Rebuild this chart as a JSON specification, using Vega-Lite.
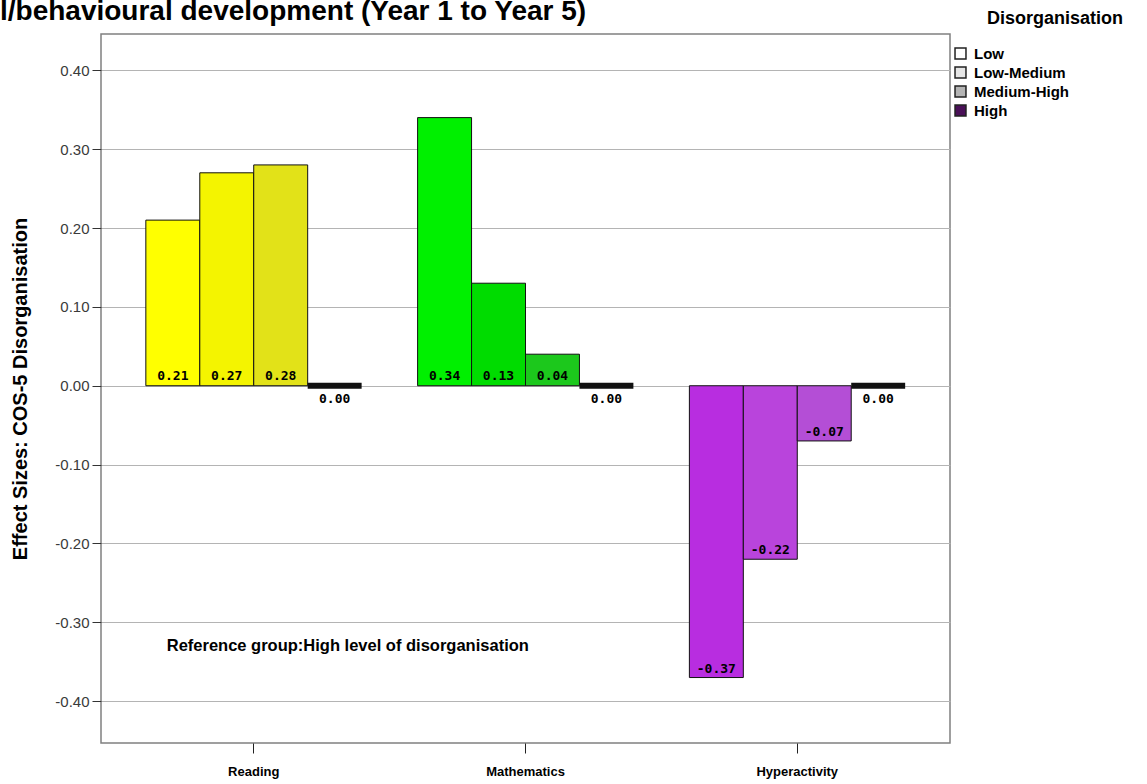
{
  "$schema": "https://vega.github.io/schema/vega-lite/v6.json",
  "autosize": {"type": "none"},
  "padding": {"left": 101, "top": 34, "right": 197, "bottom": 41},
  "width": 849,
  "height": 709,
  "background": "white",
  "title": {
    "text": "l/behavioural development (Year 1 to Year 5)",
    "anchor": "start",
    "frame": "group",
    "dx": -101,
    "dy": 26,
    "offset": 10,
    "font": "Liberation Sans",
    "fontSize": 28,
    "fontWeight": "bold",
    "color": "#000000"
  },
  "config": {
    "view": {"stroke": "#808080", "strokeWidth": 1.5},
    "axis": {"labelFont": "Liberation Sans", "titleFont": "Liberation Sans"},
    "locale": {
      "number": {"decimal": ".", "thousands": ",", "grouping": [3], "currency": ["$", ""], "minus": "-"}
    }
  },
  "datasets": {
    "bars": [
      {"subject": "Reading", "level": "Low", "key": "Reading Low", "value": 0.21},
      {"subject": "Reading", "level": "Low-Medium", "key": "Reading Low-Medium", "value": 0.27},
      {"subject": "Reading", "level": "Medium-High", "key": "Reading Medium-High", "value": 0.28},
      {"subject": "Reading", "level": "High", "key": "Reading High", "value": 0.0},
      {"subject": "Mathematics", "level": "Low", "key": "Mathematics Low", "value": 0.34},
      {"subject": "Mathematics", "level": "Low-Medium", "key": "Mathematics Low-Medium", "value": 0.13},
      {"subject": "Mathematics", "level": "Medium-High", "key": "Mathematics Medium-High", "value": 0.04},
      {"subject": "Mathematics", "level": "High", "key": "Mathematics High", "value": 0.0},
      {"subject": "Hyperactivity", "level": "Low", "key": "Hyperactivity Low", "value": -0.37},
      {"subject": "Hyperactivity", "level": "Low-Medium", "key": "Hyperactivity Low-Medium", "value": -0.22},
      {"subject": "Hyperactivity", "level": "Medium-High", "key": "Hyperactivity Medium-High", "value": -0.07},
      {"subject": "Hyperactivity", "level": "High", "key": "Hyperactivity High", "value": 0.0}
    ],
    "note": [
      {"subject": "Reading", "value": -0.33, "label": "Reference group:High level of disorganisation"}
    ],
    "levels": [
      {"level": "Low"}, {"level": "Low-Medium"}, {"level": "Medium-High"}, {"level": "High"}
    ]
  },
  "encoding": {
    "x": {
      "field": "subject",
      "type": "nominal",
      "sort": ["Reading", "Mathematics", "Hyperactivity"],
      "scale": {"paddingInner": 0.206, "paddingOuter": 0.165},
      "axis": {
        "title": null,
        "labelAngle": 0,
        "labelFont": "Liberation Sans",
        "labelFontSize": 13,
        "labelFontWeight": "bold",
        "labelColor": "#000000",
        "labelPadding": 12,
        "tickSize": 10,
        "tickColor": "#222222",
        "domain": false,
        "grid": false
      }
    },
    "y": {
      "type": "quantitative",
      "scale": {"domain": [-0.453, 0.446], "nice": false, "zero": false},
      "axis": {
        "title": "Effect Sizes: COS-5 Disorganisation",
        "titleFontSize": 20,
        "titleFontWeight": "bold",
        "titleColor": "#000000",
        "titlePadding": 24,
        "values": [-0.4, -0.3, -0.2, -0.1, 0, 0.1, 0.2, 0.3, 0.4],
        "format": ".2f",
        "labelFontSize": 15,
        "labelColor": "#3a3a3a",
        "labelPadding": 3,
        "tickSize": 9,
        "tickColor": "#333333",
        "domain": false,
        "grid": true,
        "gridColor": "#b4b4b4",
        "gridWidth": 1
      }
    }
  },
  "layer": [
    {
      "data": {"name": "bars"},
      "mark": {"type": "bar", "stroke": "#111111"},
      "encoding": {
        "xOffset": {
          "field": "level",
          "type": "nominal",
          "sort": ["Low", "Low-Medium", "Medium-High", "High"],
          "scale": {"paddingInner": 0, "paddingOuter": 0}
        },
        "y": {"field": "value", "type": "quantitative"},
        "y2": {"datum": 0},
        "color": {
          "field": "key",
          "type": "nominal",
          "legend": null,
          "scale": {
            "domain": ["Reading Low", "Reading Low-Medium", "Reading Medium-High", "Reading High",
                       "Mathematics Low", "Mathematics Low-Medium", "Mathematics Medium-High", "Mathematics High",
                       "Hyperactivity Low", "Hyperactivity Low-Medium", "Hyperactivity Medium-High", "Hyperactivity High"],
            "range": ["#ffff00", "#f4f400", "#e2e218", "#000000",
                      "#00f000", "#00dc00", "#1cc81c", "#000000",
                      "#b82de0", "#b944dc", "#b44ed6", "#000000"]
          }
        },
        "strokeWidth": {
          "condition": {"test": "datum.level === 'High'", "value": 6},
          "value": 1
        }
      }
    },
    {
      "data": {"name": "bars"},
      "transform": [{"filter": "datum.value > 0"}],
      "mark": {"type": "text", "font": "DejaVu Sans Mono", "fontSize": 13, "fontWeight": "bold", "dy": -10, "color": "#000000"},
      "encoding": {
        "xOffset": {"field": "level", "type": "nominal", "sort": ["Low", "Low-Medium", "Medium-High", "High"]},
        "y": {"datum": 0},
        "text": {"field": "value", "type": "quantitative", "format": ".2f"}
      }
    },
    {
      "data": {"name": "bars"},
      "transform": [{"filter": "datum.value < 0"}],
      "mark": {"type": "text", "font": "DejaVu Sans Mono", "fontSize": 13, "fontWeight": "bold", "dy": -9, "color": "#000000"},
      "encoding": {
        "xOffset": {"field": "level", "type": "nominal", "sort": ["Low", "Low-Medium", "Medium-High", "High"]},
        "y": {"field": "value", "type": "quantitative"},
        "text": {"field": "value", "type": "quantitative", "format": ".2f"}
      }
    },
    {
      "data": {"name": "bars"},
      "transform": [{"filter": "datum.value === 0"}],
      "mark": {"type": "text", "font": "DejaVu Sans Mono", "fontSize": 13, "fontWeight": "bold", "dy": 13, "color": "#000000"},
      "encoding": {
        "xOffset": {"field": "level", "type": "nominal", "sort": ["Low", "Low-Medium", "Medium-High", "High"]},
        "y": {"datum": 0},
        "text": {"field": "value", "type": "quantitative", "format": ".2f"}
      }
    },
    {
      "data": {"name": "note"},
      "mark": {"type": "text", "font": "Liberation Sans", "fontSize": 16.5, "fontWeight": "bold", "align": "left", "dx": -87, "color": "#000000"},
      "encoding": {
        "y": {"field": "value", "type": "quantitative"},
        "text": {"field": "label"}
      }
    },
    {
      "data": {"name": "levels"},
      "mark": {"type": "point", "shape": "square", "filled": true, "opacity": 0},
      "encoding": {
        "x": {"value": 0},
        "y": {"value": 0},
        "fill": {
          "field": "level",
          "type": "nominal",
          "sort": ["Low", "Low-Medium", "Medium-High", "High"],
          "scale": {
            "domain": ["Low", "Low-Medium", "Medium-High", "High"],
            "range": ["#ffffff", "#e6e6e6", "#b4b4b4", "#4a1058"]
          },
          "legend": {
            "title": "Disorganisation",
            "orient": "none",
            "legendX": 886,
            "legendY": -24,
            "titleFont": "Liberation Sans",
            "titleFontSize": 18,
            "titleFontWeight": "bold",
            "titleColor": "#000000",
            "titlePadding": 18,
            "labelFont": "Liberation Sans",
            "labelFontSize": 15,
            "labelFontWeight": "bold",
            "labelColor": "#000000",
            "labelOffset": 6,
            "symbolOffset": -34,
            "symbolType": "square",
            "symbolSize": 120,
            "symbolOpacity": 1,
            "symbolStrokeColor": "#222222",
            "symbolStrokeWidth": 1.5,
            "rowPadding": 2
          }
        }
      }
    }
  ]
}
